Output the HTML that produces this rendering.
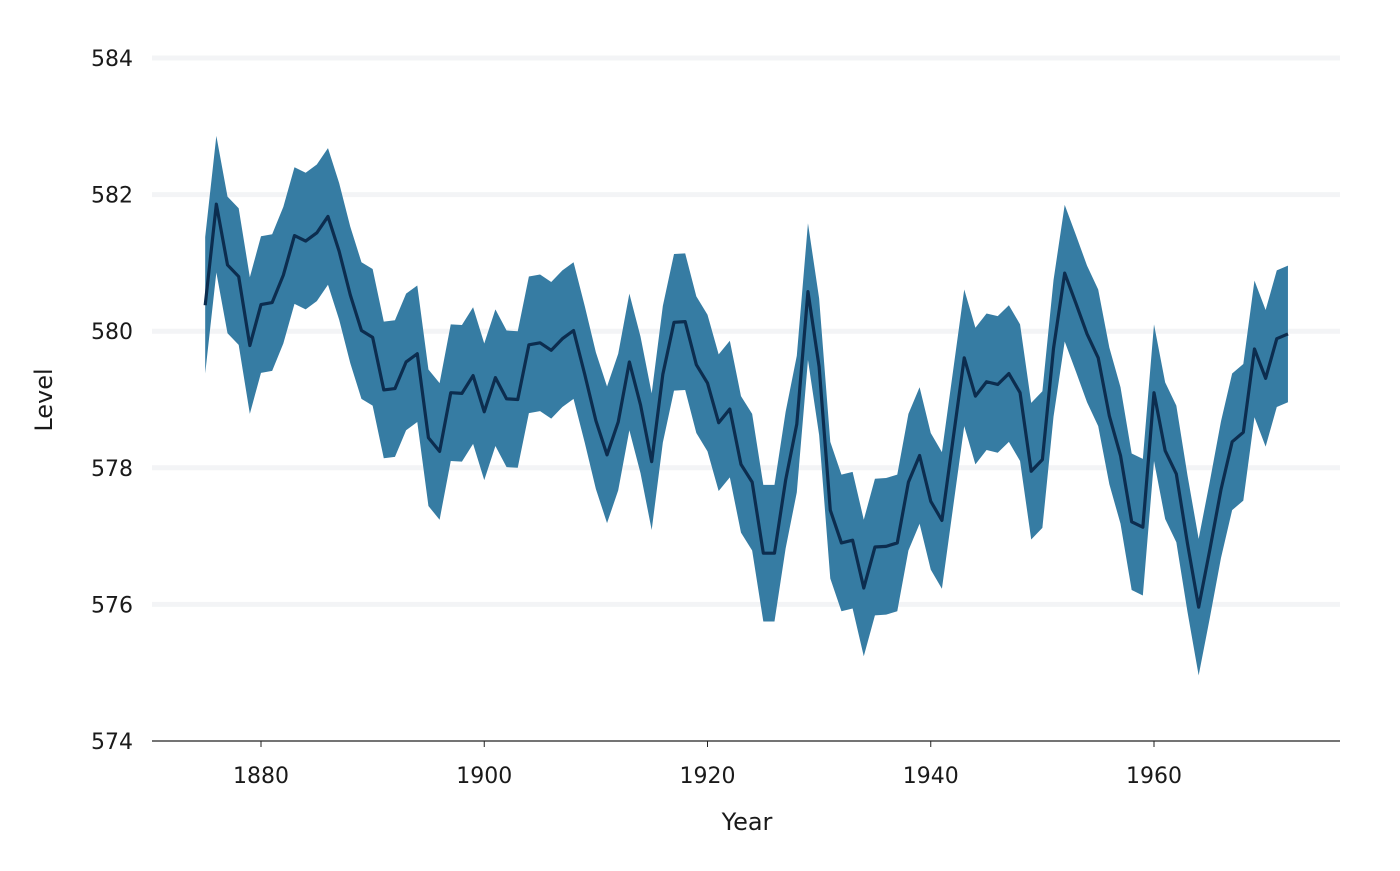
<!DOCTYPE html>
<html><head><meta charset="utf-8"><style>
body{margin:0;background:#fff}
svg text{font-family:"DejaVu Sans","Liberation Sans",sans-serif;fill:#1a1a1a}
</style></head><body>
<svg width="1400" height="866">
<g id="grid"></g>
<path id="band" fill="#367ca3"/>
<path id="line" fill="none" stroke="#0c2d4f" stroke-width="3.2" stroke-linejoin="round"/>
<line x1="152" x2="1340" y1="741" y2="741" stroke="#222" stroke-width="1.2"/>
<g id="xt"></g><g id="yt"></g>
<text x="747" y="830" font-size="24" text-anchor="middle">Year</text>
<text transform="translate(52,400) rotate(-90)" font-size="24" text-anchor="middle">Level</text>
</svg>
<script>
const startYear = 1875;
const levels = [580.38,581.86,580.97,580.80,579.79,580.39,580.42,580.82,581.40,581.32,581.44,581.68,581.17,580.53,580.01,579.91,579.14,579.16,579.55,579.67,578.44,578.24,579.10,579.09,579.35,578.82,579.32,579.01,579.00,579.80,579.83,579.72,579.89,580.01,579.37,578.69,578.19,578.67,579.55,578.92,578.09,579.37,580.13,580.14,579.51,579.24,578.66,578.86,578.05,577.79,576.75,576.75,577.82,578.64,580.58,579.48,577.38,576.90,576.94,576.24,576.84,576.85,576.90,577.79,578.18,577.51,577.23,578.42,579.61,579.05,579.26,579.22,579.38,579.10,577.95,578.12,579.75,580.85,580.41,579.96,579.61,578.76,578.18,577.21,577.13,579.10,578.25,577.91,576.89,575.96,576.80,577.68,578.38,578.52,579.74,579.31,579.89,579.96];
const bandHalf = 1;
const xTicks = [1880,1900,1920,1940,1960];
const yTicks = [574,576,578,580,582,584];
const NS="http://www.w3.org/2000/svg";
const x = yr => 261 + (yr-1880)*(1154-261)/80;
const y = v => 741 - (v-574)*(741-58)/10;
const yrs = levels.map((_,i)=>startYear+i);
let up = levels.map((v,i)=>x(yrs[i])+","+y(v+bandHalf));
let lo = levels.map((v,i)=>x(yrs[i])+","+y(v-bandHalf)).reverse();
document.getElementById('band').setAttribute('d','M'+up.join('L')+'L'+lo.join('L')+'Z');
document.getElementById('line').setAttribute('d','M'+levels.map((v,i)=>x(yrs[i])+","+y(v)).join('L'));
const g=document.getElementById('grid'), yt=document.getElementById('yt'), xt=document.getElementById('xt');
yTicks.forEach(t=>{
  if(t>574){const l=document.createElementNS(NS,'line');
  
  
  l.setAttribute('x1',152);l.setAttribute('x2',1340);l.setAttribute('y1',y(t));l.setAttribute('y2',y(t));
  l.setAttribute('stroke','#f3f4f6');l.setAttribute('stroke-width',5);g.appendChild(l);}
  const s=document.createElementNS(NS,'text');
  
  
  s.setAttribute('x',133);s.setAttribute('y',y(t)+8);s.setAttribute('font-size',22);s.setAttribute('text-anchor','end');
  s.textContent=t;yt.appendChild(s);
});
xTicks.forEach(t=>{
  const l=document.createElementNS(NS,'line');
  
  
  l.setAttribute('x1',x(t));l.setAttribute('x2',x(t));l.setAttribute('y1',741);l.setAttribute('y2',747);
  l.setAttribute('stroke','#222');xt.appendChild(l);
  const s=document.createElementNS(NS,'text');
  
  
  s.setAttribute('x',x(t));s.setAttribute('y',783);s.setAttribute('font-size',22);s.setAttribute('text-anchor','middle');
  s.textContent=t;xt.appendChild(s);
});
</script>
</body></html>
